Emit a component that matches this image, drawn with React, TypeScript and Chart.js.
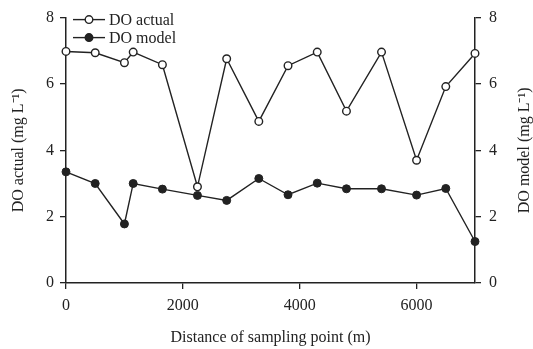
import React, { useEffect, useRef } from "react";
import { Chart, registerables } from "chart.js";

Chart.register(...registerables);

const distances = [0, 500, 1000, 1150, 1650, 2250, 2750, 3300, 3800, 4300, 4800, 5400, 6000, 6500, 7000];
const doActual = [6.98, 6.94, 6.64, 6.96, 6.58, 2.9, 6.76, 4.87, 6.55, 6.96, 5.18, 6.96, 3.7, 5.92, 6.92];
const doModel = [3.35, 3.0, 1.78, 3.0, 2.83, 2.64, 2.49, 3.15, 2.66, 3.01, 2.84, 2.84, 2.65, 2.85, 1.25];
const xTicks = [0, 2000, 4000, 6000];
const yTicks = [0, 2, 4, 6, 8];
const seriesNames = ["DO actual", "DO model"];
const xTitle = "Distance of sampling point (m)";
const yLeftTitle = "DO actual (mg L\u207B\u00B9)";
const yRightTitle = "DO model (mg L\u207B\u00B9)";

const INK = "#222";
const FONT = "'Liberation Serif', 'Times New Roman', serif";

const legendPlugin = {
  id: "insideLegend",
  afterDraw(chart: any) {
    const ctx = chart.ctx;
    const area = chart.chartArea;
    const x0 = area.left + 7;
    const rows = [
      { y: area.top + 2, fill: "#fff", label: seriesNames[0] },
      { y: area.top + 20, fill: INK, label: seriesNames[1] },
    ];
    ctx.save();
    rows.forEach((r) => {
      ctx.strokeStyle = INK;
      ctx.lineWidth = 1.4;
      ctx.beginPath();
      ctx.moveTo(x0, r.y);
      ctx.lineTo(x0 + 32, r.y);
      ctx.stroke();
      ctx.beginPath();
      ctx.arc(x0 + 16, r.y, 3.8, 0, Math.PI * 2);
      ctx.fillStyle = r.fill;
      ctx.fill();
      ctx.stroke();
      ctx.fillStyle = INK;
      ctx.font = "16px " + FONT;
      ctx.textBaseline = "middle";
      ctx.textAlign = "left";
      ctx.fillText(r.label, x0 + 36, r.y + 1);
    });

    // vertical axis titles, both reading bottom-to-top
    const cy = (area.top + area.bottom) / 2;
    [
      { x: 19, text: yLeftTitle },
      { x: 525, text: yRightTitle },
    ].forEach((t) => {
      ctx.save();
      ctx.translate(t.x, cy);
      ctx.rotate(-Math.PI / 2);
      ctx.fillStyle = INK;
      ctx.font = "16px " + FONT;
      ctx.textAlign = "center";
      ctx.textBaseline = "middle";
      ctx.fillText(t.text, 0, 0);
      ctx.restore();
    });
    ctx.restore();
  },
};

export default function App() {
  const ref = useRef<HTMLCanvasElement | null>(null);

  useEffect(() => {
    if (!ref.current) return;
    Chart.defaults.font.family = FONT;
    Chart.defaults.color = INK;

    const yAxisCommon = (position: string, pad: number) => ({
      type: "linear",
      position,
      min: 0,
      max: 8,
      afterBuildTicks: (s: any) => {
        s.ticks = yTicks.map((v) => ({ value: v }));
      },
      afterFit: (s: any) => {
        s.width = position === "left" ? 66 : 58;
      },
      grid: { drawOnChartArea: false, drawTicks: true, tickLength: 6, color: INK, lineWidth: 1.3 },
      border: { display: true, color: INK, width: 1.5 },
      ticks: { font: { size: 16 }, color: INK, padding: pad, callback: (v: any) => String(v) },
      title: { display: false },
    });

    const chart = new Chart(ref.current, {
      type: "line",
      data: {
        datasets: [
          {
            label: seriesNames[0],
            data: distances.map((x, i) => ({ x, y: doActual[i] })),
            yAxisID: "y",
            borderColor: INK,
            borderWidth: 1.4,
            pointRadius: 3.8,
            pointBorderWidth: 1.4,
            pointBackgroundColor: "#fff",
            pointBorderColor: INK,
            tension: 0,
            clip: false,
            order: 0,
          },
          {
            label: seriesNames[1],
            data: distances.map((x, i) => ({ x, y: doModel[i] })),
            yAxisID: "y1",
            borderColor: INK,
            borderWidth: 1.4,
            pointRadius: 4,
            pointBorderWidth: 1,
            pointBackgroundColor: INK,
            pointBorderColor: INK,
            tension: 0,
            clip: false,
            order: 1,
          },
        ],
      },
      options: {
        animation: false,
        responsive: false,
        layout: { padding: { top: 14, left: 0, right: 0, bottom: 0 } },
        plugins: { legend: { display: false }, tooltip: { enabled: false } },
        scales: {
          x: {
            type: "linear",
            position: "bottom",
            min: 0,
            max: 7000,
            afterBuildTicks: (s: any) => {
              s.ticks = xTicks.map((v) => ({ value: v }));
            },
            afterFit: (s: any) => {
              s.height = 66;
            },
            grid: { drawOnChartArea: false, drawTicks: true, tickLength: 6, color: INK, lineWidth: 1.3 },
            border: { display: true, color: INK, width: 1.5 },
            ticks: { font: { size: 16 }, color: INK, padding: 7, maxRotation: 0, callback: (v: any) => String(v) },
            title: {
              display: true,
              text: xTitle,
              color: INK,
              font: { size: 16, lineHeight: 1.2 },
              padding: { top: 0, bottom: 1.5 },
            },
          },
          y: yAxisCommon("left", 6),
          y1: yAxisCommon("right", 8),
        } as any,
      },
      plugins: [legendPlugin],
    } as any);

    return () => chart.destroy();
  }, []);

  return (
    <div style={{ position: "absolute", left: 0, top: 0, width: 533, height: 349, background: "#fff" }}>
      <canvas ref={ref} width={533} height={349} style={{ display: "block" }} />
    </div>
  );
}
